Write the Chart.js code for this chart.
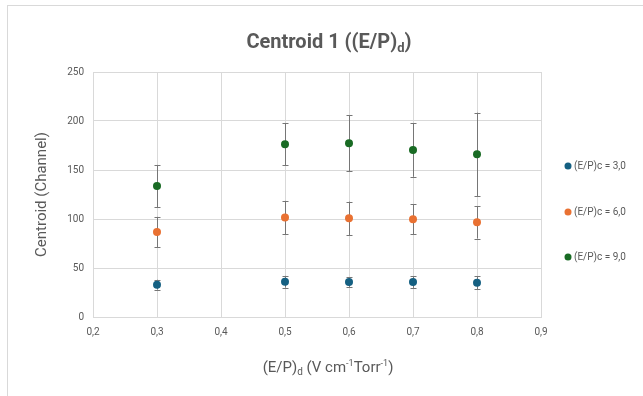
<!DOCTYPE html>
<html>
<head>
<meta charset="utf-8">
<script src="https://cdn.jsdelivr.net/npm/chart.js@4.4.1/dist/chart.umd.min.js"></script>
<style>
  html, body { margin: 0; padding: 0; background: #fff; }
  #wrap { width: 643px; height: 396px; }
</style>
</head>
<body>
<div id="wrap"><canvas id="chart"></canvas></div>
<script>
// (E/P)d values on the x axis
const epd = [0.3, 0.5, 0.6, 0.7, 0.8];

// centroid values and their error bars, one pair per (E/P)c
const c3 = [33, 36, 35.7, 35.7, 35];
const c3err = [5, 6, 5, 6, 6.5];
const c6 = [86.7, 101.5, 100.7, 99.7, 96.6];
const c6err = [15.5, 17, 17, 15.3, 16.5];
const c9 = [133.7, 176.2, 177.2, 170.4, 166];
const c9err = [21.5, 21.6, 28.5, 27.3, 42.5];

const seriesLabels = ['(E/P)c = 3,0', '(E/P)c = 6,0', '(E/P)c = 9,0'];
const seriesColors = ['#156082', '#E97132', '#196B24'];

const FONT = 'Roboto, "Liberation Sans", sans-serif';
const TEXT = '#595959';

function toPoints(ys) {
  return epd.map((x, i) => ({ x: x, y: ys[i] }));
}

const values = [c3, c6, c9];
const errors = [c3err, c6err, c9err];

// draw a row of text pieces, some of them lowered or raised
function drawRich(ctx, parts, cx, baseline) {
  let total = 0;
  parts.forEach(p => {
    ctx.font = p.font;
    p.w = ctx.measureText(p.text).width;
    total += p.w;
  });
  let x = cx - total / 2;
  ctx.textAlign = 'left';
  ctx.textBaseline = 'alphabetic';
  parts.forEach(p => {
    ctx.font = p.font;
    ctx.fillText(p.text, x, baseline + (p.dy || 0));
    x += p.w;
  });
}

const decorPlugin = {
  id: 'decor',
  beforeDraw(chart) {
    const ctx = chart.ctx;
    ctx.save();
    ctx.strokeStyle = '#d9d9d9';
    ctx.lineWidth = 1;
    ctx.strokeRect(7.5, 5.5, 700, 500);
    ctx.restore();
  },
  beforeDatasetsDraw(chart) {
    // error bars, drawn under the points
    const ctx = chart.ctx;
    const xs = chart.scales.x, ys = chart.scales.y;
    ctx.save();
    ctx.strokeStyle = '#767676';
    ctx.lineWidth = 1;
    values.forEach((vals, s) => {
      vals.forEach((v, i) => {
        const px = Math.round(xs.getPixelForValue(epd[i])) + 0.5;
        const top = ys.getPixelForValue(v + errors[s][i]);
        const bot = ys.getPixelForValue(v - errors[s][i]);
        ctx.beginPath();
        ctx.moveTo(px, top);
        ctx.lineTo(px, bot);
        ctx.moveTo(px - 3, Math.round(top) + 0.5);
        ctx.lineTo(px + 3, Math.round(top) + 0.5);
        ctx.moveTo(px - 3, Math.round(bot) + 0.5);
        ctx.lineTo(px + 3, Math.round(bot) + 0.5);
        ctx.stroke();
      });
    });
    ctx.restore();
  },
  afterDraw(chart) {
    const ctx = chart.ctx;
    ctx.save();
    ctx.fillStyle = TEXT;
    // title
    const tb = 'bold 20px ' + FONT;
    drawRich(ctx, [
      { text: 'Centroid 1 ((E/P)', font: tb },
      { text: 'd', font: 'bold 13px ' + FONT, dy: 4 },
      { text: ')', font: tb }
    ], 329, 48);
    // x axis title
    const xf = '15px ' + FONT;
    drawRich(ctx, [
      { text: '(E/P)', font: xf },
      { text: 'd', font: '10px ' + FONT, dy: 3 },
      { text: ' (V cm', font: xf },
      { text: '-1', font: '9px ' + FONT, dy: -6 },
      { text: 'Torr', font: xf },
      { text: '-1', font: '9px ' + FONT, dy: -6 },
      { text: ')', font: xf }
    ], 328, 372);
    // legend
    ctx.font = '10px ' + FONT;
    ctx.textBaseline = 'middle';
    const legendY = [166, 212, 257];
    chart.data.datasets.forEach((ds, i) => {
      ctx.fillStyle = ds.backgroundColor;
      ctx.beginPath();
      ctx.arc(568, legendY[i], 3.5, 0, Math.PI * 2);
      ctx.fill();
      ctx.fillStyle = TEXT;
      ctx.fillText(ds.label, 574, legendY[i] + 0.5);
    });
    ctx.restore();
  }
};

new Chart(document.getElementById('chart'), {
  type: 'scatter',
  data: {
    datasets: values.map((vals, i) => ({
      label: seriesLabels[i],
      data: toPoints(vals),
      backgroundColor: seriesColors[i],
      borderColor: seriesColors[i],
      pointRadius: 4,
      pointHoverRadius: 4,
      borderWidth: 0
    }))
  },
  options: {
    responsive: true,
    maintainAspectRatio: false,
    animation: false,
    layout: { padding: { top: 72, right: 102, left: 0, bottom: 0 } },
    plugins: {
      legend: { display: false },
      title: { display: false },
      tooltip: { enabled: false }
    },
    scales: {
      x: {
        type: 'linear',
        min: 0.2,
        max: 0.9,
        afterFit(scale) { scale.height = 79; },
        grid: { color: '#d9d9d9', drawTicks: false },
        border: { color: '#d9d9d9' },
        ticks: {
          stepSize: 0.1,
          padding: 9,
          color: TEXT,
          font: { family: FONT, size: 10 },
          callback: v => v.toFixed(1).replace('.', ',')
        }
      },
      y: {
        min: 0,
        max: 250,
        afterFit(scale) { scale.width = 93; },
        grid: { color: '#d9d9d9', drawTicks: false },
        border: { color: '#d9d9d9' },
        ticks: {
          stepSize: 50,
          padding: 9,
          color: TEXT,
          font: { family: FONT, size: 10 }
        },
        title: {
          display: true,
          text: 'Centroid (Channel)',
          color: TEXT,
          font: { family: FONT, size: 15 },
          padding: { top: 33, bottom: 0 }
        }
      }
    }
  },
  plugins: [decorPlugin]
});
</script>
</body>
</html>
